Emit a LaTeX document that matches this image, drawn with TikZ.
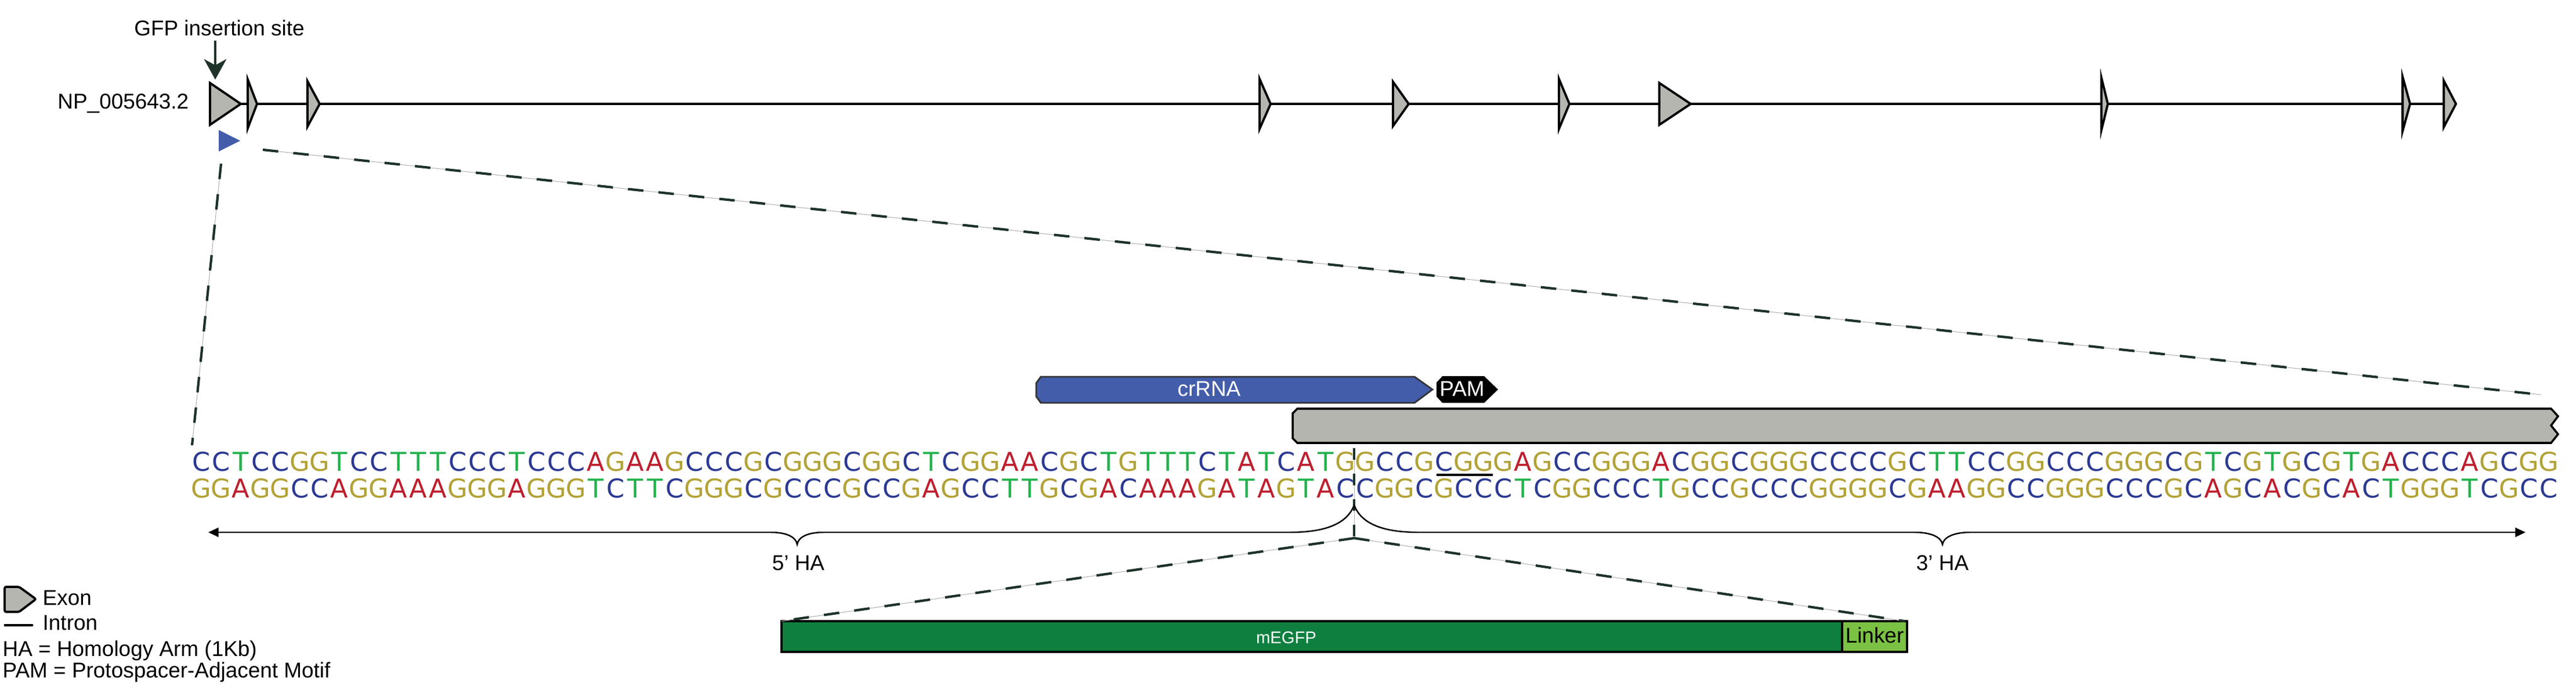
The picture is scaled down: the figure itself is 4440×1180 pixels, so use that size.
\documentclass[tikz,border=0pt]{standalone}
\usepackage{fontspec}
\setmainfont{Liberation Sans}
\newfontfamily\seqfont{DejaVu Sans}
\usepackage{xcolor}
\usepackage{tikz}
\usetikzlibrary{arrows.meta,positioning,calc}

\definecolor{exongrey}{HTML}{B5B6AF}
\definecolor{bargrey}{HTML}{B5B5AF}
\definecolor{crblue}{HTML}{435DAA}
\definecolor{dashdark}{HTML}{1D3229}
\definecolor{arrowdark}{HTML}{1F3329}
\definecolor{gfpgreen}{HTML}{0F7F40}
\definecolor{linkgreen}{HTML}{7BC143}
\definecolor{bA}{HTML}{BE1E2D}
\definecolor{bC}{HTML}{2B3992}
\definecolor{bG}{HTML}{B2A236}
\definecolor{bT}{HTML}{22B14C}

% complementary bases
\def\cmpA{T}\def\cmpT{A}\def\cmpC{G}\def\cmpG{C}

\begin{document}
\begin{tikzpicture}[x=0.01cm, y=-0.01cm,
    lbl/.style={inner sep=0pt, font=\fontsize{10.5}{12}\selectfont},
    nt/.style={inner sep=0pt, anchor=base, font=\seqfont\fontsize{12.7}{14}\selectfont},
    exon/.style={draw=black, fill=exongrey, line width=1.1pt},
    zoomdash/.style={draw=dashdark, line width=1.2pt, dash pattern=on 7.6pt off 7.4pt,
        preaction={draw=black!30, line width=0.3pt, solid}},
    ha/.style={line width=0.7pt, -{Triangle[length=5pt,width=4.5pt]}},
    box/.style={draw=black, line width=1pt}]
    \useasboundingbox (0,0) rectangle (4440,1180);

    % gene track
    \node[lbl, anchor=base] (gfp) at (378,62) {GFP insertion site};
    \node[lbl, anchor=base east] (np) at (326,188) {NP\_005643.2};
    \draw[line width=1.1pt] (415,179) -- (4212,179);
    \foreach \x/\h/\w in {362/36/53, 427/42/16, 530/39/21, 2171/43/19, 2401/38/27,
                          2687/43/18, 2860/36/54, 3622/45/11, 4141/47/13, 4212/40/21} {
        \draw[exon] (\x,179-\h) -- (\x,179+\h) -- (\x+\w,179) -- cycle;
    }
    \coordinate (site) at (371,70);
    \coordinate (sitetip) at (371,137);
    \draw[line width=0.9pt, draw=arrowdark, -{Stealth[length=10pt,width=11pt,inset=3pt]}] (site) -- (sitetip);
    \fill[crblue] (377,224) -- (377,261) -- (414,242.5) -- cycle;

    % zoom from the first exon
    \coordinate (zl1) at (381,282);
    \coordinate (zl2) at (331,767);
    \coordinate (zr1) at (453,258);
    \coordinate (zr2) at (4380,680);
    \draw[zoomdash] (zl1) -- (zl2);
    \draw[zoomdash] (zr1) -- (zr2);

    % crRNA and PAM
    \draw[fill=crblue, line width=0.8pt, draw=black!80] (1794,649) -- (2438,649) -- (2469,671) -- (2438,694)
        -- (1794,694) -- (1786,683) -- (1786,660) -- cycle;
    \node[lbl, text=white, anchor=base] (crrna) at (2084,683) {crRNA};
    \fill[black] (2486,648) -- (2558,648) -- (2582,671) -- (2558,694) -- (2486,694) -- (2476,683) -- (2476,659) -- cycle;
    \node[lbl, text=white, anchor=base] (pam) at (2520,683) {PAM};

    % exon bar
    \draw[fill=bargrey, line width=1pt] (2236,704) -- (4397,704) -- (4409,717) -- (4397,733) -- (4409,748)
        -- (4397,763) -- (2236,763) -- (2228,755) -- (2228,712) -- cycle;

    % sequence, top strand and its complement
    \foreach \nuc [count=\i] in {C,C,T,C,C,G,G,T,C,C,%
        T,T,T,C,C,C,T,C,C,C,%
        A,G,A,A,G,C,C,C,G,C,%
        G,G,G,C,G,G,C,T,C,G,%
        G,A,A,C,G,C,T,G,T,T,%
        T,C,T,A,T,C,A,T,G,G,%
        C,C,G,C,G,G,G,A,G,C,%
        C,G,G,G,A,C,G,G,C,G,%
        G,G,C,C,C,C,G,C,T,T,%
        C,C,G,G,C,C,C,G,G,G,%
        C,G,T,C,G,T,G,C,G,T,%
        G,A,C,C,C,A,G,C,G,G} {
        \edef\pair{\csname cmp\nuc\endcsname}
        \node[nt, text=b\nuc] (t\i) at (313+34*\i, 812) {\nuc};
        \node[nt, text=b\pair] (c\i) at (313+34*\i, 858) {\pair};
    }
    \draw[line width=1pt] (2476,818) -- (2573,818);

    % cut site
    \coordinate (cuttop) at (2334,772);
    \coordinate (apex) at (2334,927);
    \draw[zoomdash, dash pattern=on 5.7pt off 6.8pt] (cuttop) -- (apex);

    % homology arms
    \coordinate (hatip) at (2334,870);
    \coordinate (ha5) at (359,917);
    \coordinate (ha3) at (4353,917);
    \draw[ha] (hatip) .. controls (2322,902) and (2285,917) .. (2223,917) -- (1420,917)
        .. controls (1392,917) and (1376,925) .. (1374,938) .. controls (1372,925) and (1356,917) .. (1328,917) -- (ha5);
    \draw[ha] (hatip) .. controls (2346,902) and (2383,917) .. (2445,917) -- (3300,917)
        .. controls (3328,917) and (3346,925) .. (3348,938) .. controls (3350,925) and (3368,917) .. (3396,917) -- (ha3);
    \node[lbl, anchor=base] (arm5) at (1376,982) {5' HA};
    \node[lbl, anchor=base] (arm3) at (3348,982) {3' HA};

    % insert
    \draw[box, fill=gfpgreen] (1347,1070) rectangle (3175,1123);
    \draw[box, fill=linkgreen] (3175,1070) rectangle (3287,1123);
    \node[inner sep=0pt, anchor=base, text=white, font=\fontsize{8.3}{10}\selectfont] (egfp) at (2217,1108) {mEGFP};
    \node[lbl, anchor=base] (linker) at (3231,1107) {Linker};
    \coordinate (ins1) at (1347,1070);
    \coordinate (ins2) at (3283,1070);
    \draw[zoomdash] (apex) -- (ins1);
    \draw[zoomdash] (apex) -- (ins2);

    % legend
    \draw[line width=1.1pt, fill=exongrey, rounded corners=0.8pt] (8,1011) -- (33,1011) -- (62,1032) -- (33,1054) -- (8,1054) -- cycle;
    \node[lbl, anchor=base west] (lgexon) at (73,1042) {Exon};
    \draw[line width=1.1pt] (7,1077) -- (57,1077);
    \node[lbl, anchor=base west] (lgintron) at (73,1085) {Intron};
    \node[lbl, anchor=base west] (lgha) at (4,1130) {HA = Homology Arm (1Kb)};
    \node[lbl, anchor=base west] (lgpam) at (4,1167) {PAM = Protospacer-Adjacent Motif};
\end{tikzpicture}
\end{document}
